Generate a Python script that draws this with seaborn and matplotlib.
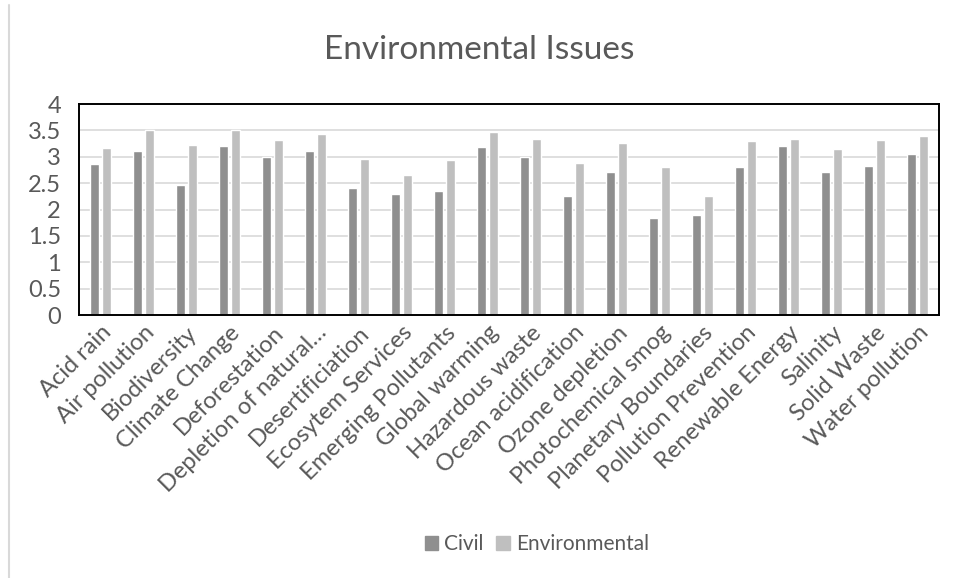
import matplotlib
matplotlib.use("Agg")
import matplotlib.pyplot as plt
from matplotlib.lines import Line2D
import seaborn as sns
import pandas as pd

issues = [
    "Acid rain", "Air pollution", "Biodiversity", "Climate Change", "Deforestation",
    "Depletion of natural…", "Desertificiation", "Ecosytem Services", "Emerging Pollutants",
    "Global warming", "Hazardous waste", "Ocean acidification", "Ozone depletion",
    "Photochemical smog", "Planetary Boundaries", "Pollution Prevention",
    "Renewable Energy", "Salinity", "Solid Waste", "Water pollution",
]
civil = [2.87, 3.11, 2.46, 3.21, 3.00, 3.11, 2.41, 2.29, 2.36, 3.19,
         3.00, 2.26, 2.72, 1.83, 1.89, 2.81, 3.21, 2.72, 2.82, 3.05]
environmental = [3.17, 3.51, 3.23, 3.51, 3.32, 3.43, 2.96, 2.65, 2.94, 3.46,
                 3.34, 2.88, 3.26, 2.80, 2.26, 3.29, 3.34, 3.15, 3.32, 3.40]
groups = ["Civil", "Environmental"]
colors = ["#8f8f8f", "#bfbfbf"]

df = pd.DataFrame({
    "issue": issues * 2,
    "group": [groups[0]] * len(issues) + [groups[1]] * len(issues),
    "score": civil + environmental,
})

sns.set_theme(style="white")
plt.rcParams["font.family"] = ["Lato", "DejaVu Sans"]
text_color = "#595959"

fig = plt.figure(figsize=(9.58, 5.78), dpi=100)
ax = fig.add_axes([79 / 958, 1 - 315 / 578, (939 - 79) / 958, (315 - 104) / 578])

sns.barplot(data=df, x="issue", y="score", hue="group", palette=colors,
            width=0.55, gap=0.2, ax=ax, legend=False, saturation=1)

ax.set_ylim(0, 4)
ax.set_xlim(-0.5, len(issues) - 0.5)
ax.set_yticks([0, 0.5, 1, 1.5, 2, 2.5, 3, 3.5, 4])
ax.set_yticklabels(["0", "0.5", "1", "1.5", "2", "2.5", "3", "3.5", "4"])
ax.yaxis.grid(True, color="#d9d9d9", linewidth=1.2)
ax.set_axisbelow(True)
ax.set_xlabel("")
ax.set_ylabel("")
for s in ax.spines.values():
    s.set_visible(True)
    s.set_color("black")
    s.set_linewidth(1.4)
ax.tick_params(axis="both", length=0, labelsize=17, colors=text_color)
ax.tick_params(axis="y", pad=13)
ax.tick_params(axis="x", pad=5)
plt.setp(ax.get_xticklabels(), rotation=45, ha="right", rotation_mode="anchor")

fig.text(0.5, 1 - 50 / 578, "Environmental Issues", ha="center", va="center",
         fontsize=24, color=text_color)

handles = [plt.Rectangle((0, 0), 1, 1, color=c) for c in colors]
fig.legend(handles, groups, loc="center", bbox_to_anchor=(537 / 958, 1 - 544 / 578),
           ncol=2, frameon=False, fontsize=15, labelcolor=text_color,
           handlelength=0.65, handleheight=0.65, handletextpad=0.3, columnspacing=0.6)

fig.add_artist(Line2D([9 / 958, 9 / 958], [0, 1 - 5 / 578], color="#d9d9d9",
                      linewidth=1.5, transform=fig.transFigure))

fig.savefig("out.png", dpi=100, facecolor="white")
